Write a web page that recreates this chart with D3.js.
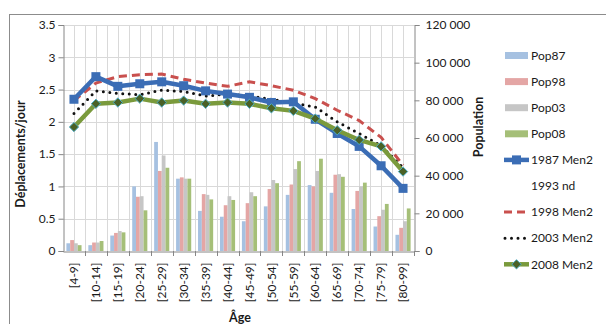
<!DOCTYPE html>
<html><head><meta charset="utf-8">
<script src="https://cdn.jsdelivr.net/npm/d3@7"></script>
<style>
html,body{margin:0;padding:0;background:#fff;overflow:hidden}
text{font-family:Lato,"Open Sans",sans-serif;fill:#1a1a1a}
</style></head><body>
<svg id="c" width="606" height="324"></svg>
<script>
const categories = ["[4-9]","[10-14]","[15-19]","[20-24]","[25-29]","[30-34]","[35-39]","[40-44]","[45-49]","[50-54]","[55-59]","[60-64]","[65-69]","[70-74]","[75-79]","[80-99]"];
const pop87 = [4100,3100,8200,34300,57900,38400,21300,18200,15800,23700,29800,35000,30900,22300,13000,8600];
const pop98 = [5800,4500,9600,28800,42500,39100,30200,24300,25400,32900,35300,34300,40500,31900,18500,12300];
const pop03 = [4100,4500,10600,29100,50700,38400,29800,29100,31200,37700,43500,42500,40800,34300,21900,15800];
const pop08 = [3100,5300,9900,21600,44200,38400,27400,27100,29100,36000,47700,49000,39400,36300,25000,22600];
const men1987 = [2.35,2.70,2.55,2.59,2.62,2.56,2.48,2.43,2.38,2.30,2.31,2.04,1.82,1.62,1.32,0.97];
const men1998 = [2.33,2.60,2.70,2.73,2.74,2.66,2.60,2.55,2.62,2.56,2.49,2.36,2.18,2.02,1.76,1.33];
const men2003 = [2.13,2.48,2.44,2.42,2.49,2.47,2.40,2.43,2.40,2.35,2.29,2.23,2.00,1.82,1.63,1.29];
const men2008 = [1.92,2.28,2.30,2.36,2.30,2.33,2.28,2.30,2.28,2.21,2.17,2.05,1.87,1.72,1.62,1.23];
const leftTicks = [0,0.5,1,1.5,2,2.5,3,3.5];
const rightTicks = [0,20000,40000,60000,80000,100000,120000];
const barSeries = ["Pop87","Pop98","Pop03","Pop08"];
const barData = [pop87,pop98,pop03,pop08];
const barColors = ["#a6c1e1","#e4a6a5","#c6c6c6","#a5bf78"];

const svg = d3.select("#c");
const L=63, R=414, T=25, B=251;
svg.append("rect").attr("x",9.5).attr("y",14.5).attr("width",640).attr("height",340)
  .attr("fill","none").attr("stroke","#8c8c8c").attr("stroke-width",1);

const x = d3.scaleBand().domain(categories).range([L,R]).padding(0);
const yL = d3.scaleLinear().domain([0,3.5]).range([B,T]);
const yR = d3.scaleLinear().domain([0,120000]).range([B,T]);
const xs = d3.scaleBand().domain(barSeries).range([0,x.bandwidth()]).paddingOuter(0.9).paddingInner(0);

// gridlines
const g = svg.append("g");
g.selectAll(".hg").data(leftTicks.slice(1)).join("line")
  .attr("x1",L).attr("x2",R).attr("y1",d=>Math.round(yL(d))+0.5).attr("y2",d=>Math.round(yL(d))+0.5)
  .attr("stroke","#d9d9d9");
const vpos = [];
categories.forEach((c,i)=>{ if(i>0) vpos.push(x(c)); vpos.push(x(c)+x.bandwidth()/2); });
g.selectAll(".vg").data(vpos).join("line")
  .attr("x1",d=>Math.round(d)+0.5).attr("x2",d=>Math.round(d)+0.5).attr("y1",T).attr("y2",B)
  .attr("stroke","#d9d9d9");

// bars
barData.forEach((arr,si)=>{
  svg.append("g").selectAll("rect").data(arr).join("rect")
    .attr("x",(d,i)=>x(categories[i])+xs(barSeries[si]))
    .attr("width",xs.bandwidth())
    .attr("y",d=>yR(d)).attr("height",d=>B-yR(d))
    .attr("fill",barColors[si]);
});

// axes
const axL = d3.axisLeft(yL).tickValues(leftTicks).tickSize(5).tickFormat(d3.format(""));
const gL = svg.append("g").attr("transform",`translate(${L+0.5},0)`).call(axL);
const axR = d3.axisRight(yR).tickValues(rightTicks).tickSize(5).tickFormat(d=>d3.format(",")(d).replace(/,/g," "));
const gR = svg.append("g").attr("transform",`translate(${R+0.5},0)`).call(axR);
const axB = d3.axisBottom(x).tickSize(0).tickFormat(d=>d);
const gB = svg.append("g").attr("transform",`translate(0,${B+0.5})`).call(axB);
[gL,gR,gB].forEach(a=>{
  a.select(".domain").attr("stroke","#868686");
  a.selectAll(".tick line").attr("stroke","#868686");
  a.selectAll("text").style("font-family","Lato").style("font-size","12px").attr("fill","#1a1a1a");
});
gL.selectAll("text").attr("x",-8);
gR.selectAll("text").attr("x",11);
gB.selectAll(".tick text").attr("transform","rotate(-90)").attr("text-anchor","end")
  .attr("x",-11).attr("y",0).attr("dy","0.35em");
// x boundary ticks
svg.append("g").selectAll("line").data(categories.slice(1).map(c=>x(c)).concat([R]))
  .join("line").attr("x1",d=>Math.round(d)+0.5).attr("x2",d=>Math.round(d)+0.5)
  .attr("y1",B).attr("y2",B+5).attr("stroke","#868686");

// lines
const cx = i=>x(categories[i])+x.bandwidth()/2;
const line = d3.line().x((d,i)=>cx(i)).y(d=>yL(d));
svg.append("path").attr("d",line(men1998)).attr("fill","none").attr("stroke","#c9504e")
  .attr("stroke-width",3).attr("stroke-dasharray","8,5");
svg.append("path").attr("d",line(men2003)).attr("fill","none").attr("stroke","#111")
  .attr("stroke-width",3).attr("stroke-linecap","round").attr("stroke-dasharray","0,6.5");
svg.append("path").attr("d",line(men1987)).attr("fill","none").attr("stroke","#3b6db5")
  .attr("stroke-width",4.5).attr("stroke-linejoin","round");
svg.append("g").selectAll("rect").data(men1987).join("rect")
  .attr("x",(d,i)=>cx(i)-4.5).attr("y",d=>yL(d)-4.5).attr("width",9).attr("height",9)
  .attr("fill","#3b6db5");
svg.append("path").attr("d",line(men2008)).attr("fill","none").attr("stroke","#7a9a3c")
  .attr("stroke-width",4.5).attr("stroke-linejoin","round");
const diamond = d3.symbol().type(d3.symbolDiamond2).size(55);
svg.append("g").selectAll("path").data(men2008).join("path")
  .attr("d",diamond).attr("transform",(d,i)=>`translate(${cx(i)},${yL(d)})`)
  .attr("fill","#4a6126").attr("stroke","#4bacc6").attr("stroke-width",1);

// axis titles
svg.append("text").attr("transform","translate(25,154) rotate(-90)").attr("text-anchor","middle")
  .style("font-size","12.5px").style("font-weight","bold").text("Déplacements/jour");
svg.append("text").attr("transform","translate(483,127) rotate(-90)").attr("text-anchor","middle")
  .style("font-size","12.5px").style("font-weight","bold").text("Population");
svg.append("text").attr("x",240).attr("y",321.5).attr("text-anchor","middle")
  .style("font-size","12.5px").style("font-weight","bold").text("Âge");

// legend
const legendItems = ["Pop87","Pop98","Pop03","Pop08","1987 Men2","1993 nd","1998 Men2","2003 Men2","2008 Men2"];
const lg = svg.append("g");
legendItems.forEach((name,i)=>{
  const yy = 55.5 + i*26.1;
  if(i<4){
    lg.append("rect").attr("x",505).attr("y",yy-3.5).attr("width",23).attr("height",7).attr("fill",barColors[i]);
  } else if(i===4){
    lg.append("line").attr("x1",504).attr("x2",529).attr("y1",yy).attr("y2",yy).attr("stroke","#3b6db5").attr("stroke-width",4.5);
    lg.append("rect").attr("x",512).attr("y",yy-4.5).attr("width",9).attr("height",9).attr("fill","#3b6db5");
  } else if(i===6){
    lg.append("line").attr("x1",504).attr("x2",529).attr("y1",yy).attr("y2",yy).attr("stroke","#c9504e").attr("stroke-width",3).attr("stroke-dasharray","8,5");
  } else if(i===7){
    lg.append("line").attr("x1",505).attr("x2",529).attr("y1",yy).attr("y2",yy).attr("stroke","#111").attr("stroke-width",3).attr("stroke-linecap","round").attr("stroke-dasharray","0,6.5");
  } else if(i===8){
    lg.append("line").attr("x1",504).attr("x2",529).attr("y1",yy).attr("y2",yy).attr("stroke","#7a9a3c").attr("stroke-width",4.5);
    lg.append("path").attr("d",diamond).attr("transform",`translate(516.5,${yy})`).attr("fill","#4a6126").attr("stroke","#4bacc6");
  }
  lg.append("text").attr("x",531).attr("y",yy).attr("dy","0.35em").style("font-size","12px").text(name);
});
</script></body></html>
